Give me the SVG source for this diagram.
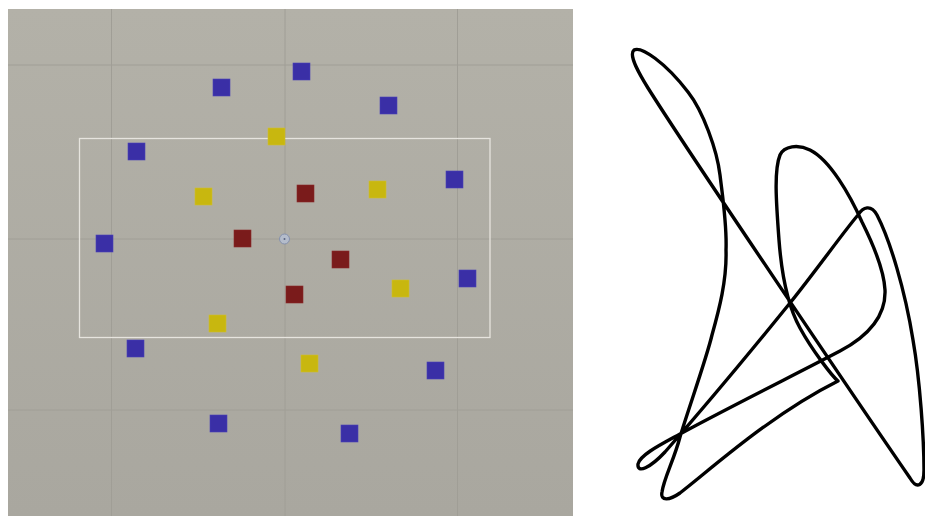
<svg xmlns="http://www.w3.org/2000/svg" width="925" height="516" viewBox="0 0 925 516">
  <style>
    .grid { stroke: #a09e96; stroke-width: 1; fill: none; }
    .b { fill: #3a2fa6; stroke: #4a40b8; stroke-width: 0.6; }
    .y { fill: #c8b70f; stroke: #d0c030; stroke-width: 0.6; }
    .r { fill: #7a1b1b; stroke: #8a2b2b; stroke-width: 0.6; }
    .curve { fill: none; stroke: #000; stroke-width: 3.4; stroke-linejoin: round; stroke-linecap: round; }
  </style>
  <defs>
    <linearGradient id="bg" x1="0" y1="0" x2="0" y2="1">
      <stop offset="0" stop-color="#b3b1a8"/>
      <stop offset="1" stop-color="#a9a79f"/>
    </linearGradient>
  </defs>
  <rect x="0" y="0" width="925" height="516" fill="#ffffff"/>
  <g id="scene-view">
    <rect x="8" y="9" width="565" height="507" fill="url(#bg)"/>
    <g id="grid">
      <line class="grid" x1="111.5" y1="9" x2="111.5" y2="516"/>
      <line class="grid" x1="285" y1="9" x2="285" y2="516"/>
      <line class="grid" x1="457.5" y1="9" x2="457.5" y2="516"/>
      <line class="grid" x1="8" y1="65" x2="573" y2="65"/>
      <line class="grid" x1="8" y1="239" x2="573" y2="239"/>
      <line class="grid" x1="8" y1="410" x2="573" y2="410"/>
    </g>
    <rect id="selection" x="79.5" y="138.5" width="410.5" height="199" fill="none" stroke="#e6e4de" stroke-width="1.3"/>
    <g id="pivot">
      <circle cx="284.5" cy="239" r="5" fill="#b4bccb" stroke="#8591ad" stroke-width="1"/>
      <circle cx="284.5" cy="239" r="1" fill="#5a6480"/>
    </g>
    <g id="blue-squares">
      <rect id="b1" class="b" x="213" y="79" width="17" height="17"/>
      <rect id="b2" class="b" x="293" y="63" width="17" height="17"/>
      <rect id="b3" class="b" x="380" y="97" width="17" height="17"/>
      <rect id="b4" class="b" x="128" y="143" width="17" height="17"/>
      <rect id="b5" class="b" x="446" y="171" width="17" height="17"/>
      <rect id="b6" class="b" x="96" y="235" width="17" height="17"/>
      <rect id="b7" class="b" x="459" y="270" width="17" height="17"/>
      <rect id="b8" class="b" x="127" y="340" width="17" height="17"/>
      <rect id="b9" class="b" x="427" y="362" width="17" height="17"/>
      <rect id="b10" class="b" x="210" y="415" width="17" height="17"/>
      <rect id="b11" class="b" x="341" y="425" width="17" height="17"/>
    </g>
    <g id="yellow-squares">
      <rect id="y1" class="y" x="268" y="128" width="17" height="17"/>
      <rect id="y2" class="y" x="195" y="188" width="17" height="17"/>
      <rect id="y3" class="y" x="369" y="181" width="17" height="17"/>
      <rect id="y4" class="y" x="392" y="280" width="17" height="17"/>
      <rect id="y5" class="y" x="209" y="315" width="17" height="17"/>
      <rect id="y6" class="y" x="301" y="355" width="17" height="17"/>
    </g>
    <g id="red-squares">
      <rect id="r1" class="r" x="297" y="185" width="17" height="17"/>
      <rect id="r2" class="r" x="234" y="230" width="17" height="17"/>
      <rect id="r3" class="r" x="332" y="251" width="17" height="17"/>
      <rect id="r4" class="r" x="286" y="286" width="17" height="17"/>
    </g>
  </g>
  <g id="curve-view">
    <path class="curve" d="M 634,50
      C 641,46 665,62 688,92
      C 703,111 717,150 720,175
      C 723,200 727,225 726,250
      C 727,280 719,310 712,335
      C 706,360 688,410 680,437
      C 674,460 664,478 662,492
      C 660,502 670,500 680,493
      C 710,470 770,415 838,381
      C 832,376 812,350 800,328
      C 790,310 782,280 779,240
      C 776,200 774,170 780,155
      C 784,146 798,144 810,150
      C 830,160 850,195 862,222
      C 874,246 884,270 885,290
      C 886,315 870,335 840,351
      C 800,372 720,412 680,434
      C 660,445 640,455 638,464
      C 637,474 650,468 665,452
      C 700,412 760,340 790,303
      C 815,272 845,230 858,215
      C 863,207 871,204 877,215
      C 890,240 905,290 913,340
      C 920,380 924,440 924,470
      C 924,486 917,490 910,478
      C 870,420 690,155 648,88
      C 640,75 628,55 634,50 Z"/>
  </g>
</svg>
